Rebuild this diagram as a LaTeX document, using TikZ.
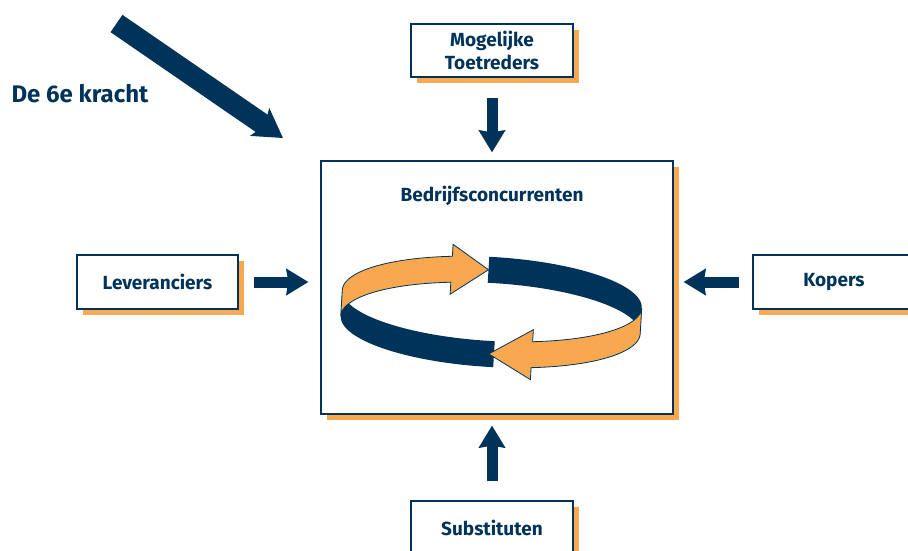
\documentclass[tikz,border=0pt]{standalone}
\usepackage{fontspec}
\setmainfont{Fira Sans}
\usetikzlibrary{arrows.meta,shadows}
\definecolor{navy}{RGB}{0,51,89}
\definecolor{orng}{RGB}{249,168,79}
\begin{document}
\begin{tikzpicture}[x=1pt,y=-1pt,
  box/.style={draw=navy, line width=1.2pt, fill=white, text=navy,
    font=\bfseries\fontsize{19}{22.5}\selectfont, align=center, inner sep=0pt,
    drop shadow={shadow xshift=6pt, shadow yshift=-6pt, fill=orng, opacity=1}},
  fatarrow/.style={draw=navy, line width=11pt, -{Stealth[length=22pt,width=26pt,inset=2pt]}},
  lbl/.style={text=navy, font=\bfseries\fontsize{19}{22.5}\selectfont, inner sep=0pt},
  ringnavy/.style={fill=navy},
  ringorange/.style={fill=orng, draw=navy, line width=0.8pt, line join=miter},
]
\useasboundingbox (0,0) rectangle (908,550);

% boxes
\node[box, minimum width=162pt, minimum height=53pt] (toe) at (492,50.5) {Mogelijke\\Toetreders};
\node[box, minimum width=352pt, minimum height=253pt] (conc) at (497,287.5) {};
\node[box, minimum width=161pt, minimum height=54pt] (lev) at (157.5,282) {Leveranciers};
\node[box, minimum width=162pt, minimum height=54pt] (kop) at (834,282) {Kopers};
\node[box, minimum width=162pt, minimum height=53pt] (sub) at (492,527.5) {Substituten};

\node[lbl] (bc) at (492,196) {Bedrijfsconcurrenten};
\node[lbl, font=\bfseries\fontsize{24}{28}\selectfont] (k6) at (80,94) {De 6e kracht};

% straight arrows
\draw[fatarrow, shorten <=20pt, shorten >=8pt] (toe.south) -- (toe.south |- conc.north);
\draw[fatarrow, shorten <=15pt, shorten >=12pt] (lev.east) -- (lev.east -| conc.west);
\draw[fatarrow, shorten <=13pt, shorten >=10pt] (kop.west) -- (kop.west -| conc.east);
\draw[fatarrow, shorten <=19pt, shorten >=11pt] (sub.north) -- (sub.north |- conc.south);

% sixth force arrow
\coordinate (k6a) at (116.5,23.5);
\coordinate (k6b) at (283,138);
\draw[navy, line width=21pt, -{Stealth[length=28pt,width=33pt,inset=6pt]}] (k6a) -- (k6b);

% circular arrows
\begin{scope}[shift={(492,299)}, rotate=-3.4]
  \fill[ringnavy] plot[domain=268:360, samples=40] ({150*cos(\x)},{42*sin(\x)})
    -- plot[domain=360:268, samples=40] ({150*cos(\x)},{42*sin(\x)+26}) -- cycle;
  \fill[ringnavy] plot[domain=88:180, samples=40] ({150*cos(\x)},{42*sin(\x)})
    -- plot[domain=180:88, samples=40] ({150*cos(\x)},{42*sin(\x)+26}) -- cycle;
  \filldraw[ringorange] plot[domain=180:253.7, samples=40] ({150*cos(\x)},{42*sin(\x)})
    -- ({150*cos(253.7)},{42*sin(253.7)-12})
    -- ({150*cos(268)},{42*sin(268)+13})
    -- ({150*cos(253.7)},{42*sin(253.7)+38})
    -- ({150*cos(253.7)},{42*sin(253.7)+26})
    -- plot[domain=253.7:180, samples=40] ({150*cos(\x)},{42*sin(\x)+26}) -- cycle;
  \filldraw[ringorange] plot[domain=0:73.3, samples=40] ({150*cos(\x)},{42*sin(\x)})
    -- ({150*cos(73.3)},{42*sin(73.3)-12})
    -- (0,55)
    -- ({150*cos(73.3)},{42*sin(73.3)+38})
    -- ({150*cos(73.3)},{42*sin(73.3)+26})
    -- plot[domain=73.3:0, samples=40] ({150*cos(\x)},{42*sin(\x)+26}) -- cycle;
\end{scope}
\end{tikzpicture}
\end{document}
